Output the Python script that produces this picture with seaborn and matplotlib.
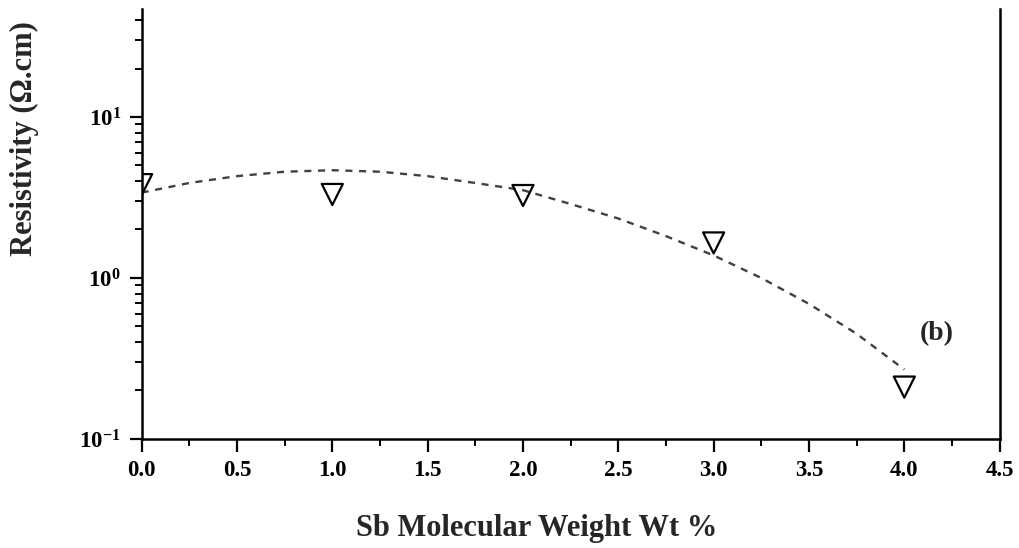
import numpy as np
import pandas as pd
import matplotlib
matplotlib.use("Agg")
import matplotlib.pyplot as plt
import matplotlib.ticker as mticker
import seaborn as sns

# measured points (Sb wt %, resistivity in ohm.cm)
sb_wt = [0.0, 1.0, 2.0, 3.0, 4.0]
resistivity = [3.8, 3.3, 3.25, 1.65, 0.21]

# dashed fit curve
fit_wt = [0.0, 0.25, 0.5, 0.75, 1.0, 1.25, 1.5, 1.75, 2.0, 2.25, 2.5, 2.75, 3.0, 3.25, 3.5, 3.75, 4.0]
fit_res = [3.39, 3.89, 4.29, 4.57, 4.67, 4.57, 4.29, 3.89, 3.51, 2.88, 2.34, 1.82, 1.38, 1.0, 0.69, 0.45, 0.27]

x_ticks = [0.0, 0.5, 1.0, 1.5, 2.0, 2.5, 3.0, 3.5, 4.0, 4.5]

sns.set_theme(style="ticks")
plt.rcParams["font.family"] = ["Liberation Serif", "DejaVu Serif"]
plt.rcParams["font.weight"] = "bold"
plt.rcParams["mathtext.fontset"] = "custom"
plt.rcParams["mathtext.rm"] = "Liberation Serif:bold"
plt.rcParams["mathtext.bf"] = "Liberation Serif:bold"
plt.rcParams["mathtext.default"] = "bf"

df_pts = pd.DataFrame({"wt": sb_wt, "res": resistivity})
df_fit = pd.DataFrame({"wt": fit_wt, "res": fit_res})

fig, ax = plt.subplots(figsize=(10.19, 5.48), dpi=100)
fig.subplots_adjust(left=0.139, right=0.981, bottom=0.199, top=0.984)

sns.lineplot(data=df_fit, x="wt", y="res", ax=ax, color="0.25", linewidth=1.7,
             dashes=False, linestyle=(0, (3, 2.8)))
sns.scatterplot(data=df_pts, x="wt", y="res", ax=ax, marker="v", s=230,
                facecolor="none", edgecolor="black", linewidth=1.6, zorder=3)

ax.set_yscale("log")
ax.set_ylim(0.1, 47)
ax.set_xlim(0, 4.5)
ax.set_xticks(x_ticks)
ax.xaxis.set_major_formatter(mticker.FormatStrFormatter("%.1f"))
ax.xaxis.set_minor_locator(mticker.MultipleLocator(0.25))
ax.yaxis.set_major_locator(mticker.LogLocator(base=10, numticks=10))
ax.yaxis.set_minor_locator(mticker.LogLocator(base=10, subs=np.arange(2, 10), numticks=10))
ax.yaxis.set_minor_formatter(mticker.NullFormatter())

for side in ["left", "bottom", "right"]:
    ax.spines[side].set_linewidth(1.8)
    ax.spines[side].set_color("black")
ax.spines["top"].set_visible(False)

ax.tick_params(which="major", direction="out", length=9, width=1.6, labelsize=16.5,
               colors="black", pad=6)
ax.tick_params(which="minor", direction="out", length=5, width=1.4, colors="black")
ax.tick_params(axis="y", right=False, which="both")
ax.tick_params(axis="x", top=False, which="both")

ax.set_xlabel("Sb Molecular Weight Wt %", fontsize=22, fontweight="bold")
ax.set_ylabel("Resistivity (Ω.cm)", fontsize=22, fontweight="bold")
ax.xaxis.set_label_coords(0.46, -0.175)
ax.yaxis.set_label_coords(-0.12, 0.698)

ax.text(4.17, 0.45, "(b)", fontsize=20, fontweight="bold", ha="center", va="center")

plt.savefig("out.png", dpi=100)
